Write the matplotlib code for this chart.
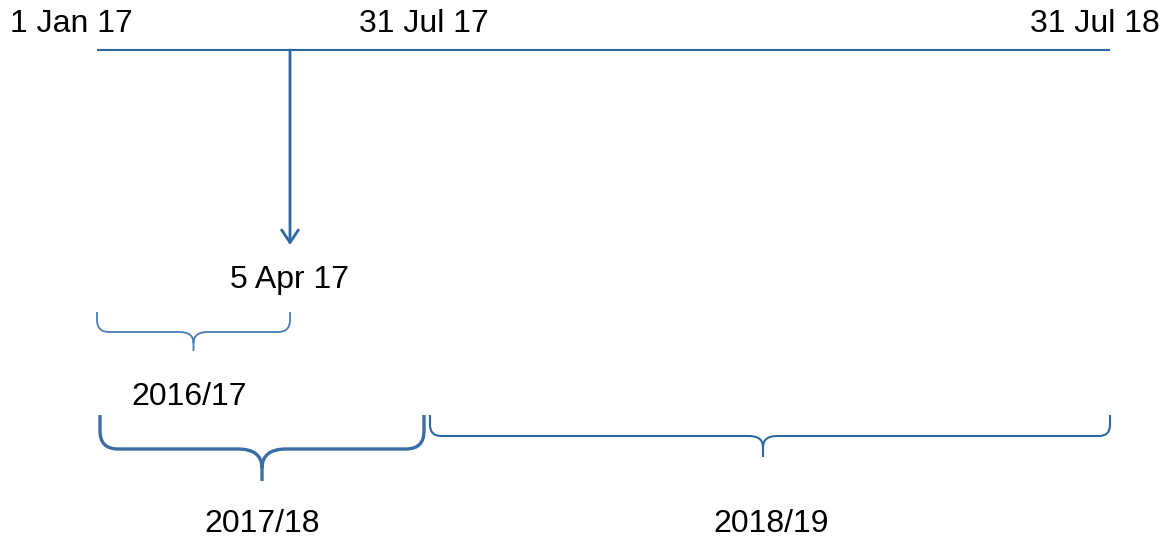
import matplotlib
matplotlib.use("Agg")
import matplotlib.pyplot as plt
from matplotlib.path import Path
from matplotlib import patches

plt.rcParams['font.family'] = ['Liberation Sans', 'DejaVu Sans']

# timeline labels and where they sit on the (schematic) line, in pixels
top_dates = ["1 Jan 17", "31 Jul 17", "31 Jul 18"]
top_date_x = [71, 424, 1095]
line_start, line_end = 97, 1110

event_date = "5 Apr 17"
event_x = 290

# tax years: label, start x, end x
periods = ["2016/17", "2017/18", "2018/19"]
period_start = [97, 100, 430]
period_end = [290, 424, 1110]

BLUE = '#2e68a3'


def brace(ax, x0, x1, ytop, ymid, ytip, r, rc, lw, color, xc=None):
    if xc is None:
        xc = (x0 + x1) / 2.0
    verts = [(x0, ytop), (x0, ymid - r),
             (x0, ymid), (x0 + r, ymid),
             (xc - rc, ymid),
             (xc, ymid), (xc, ymid + rc * 0.8),
             (xc, ytip),
             (xc, ymid + rc * 0.8),
             (xc, ymid), (xc + rc, ymid),
             (x1 - r, ymid),
             (x1, ymid), (x1, ymid - r),
             (x1, ytop)]
    codes = [Path.MOVETO, Path.LINETO,
             Path.CURVE3, Path.CURVE3,
             Path.LINETO,
             Path.CURVE3, Path.CURVE3,
             Path.LINETO,
             Path.MOVETO,
             Path.CURVE3, Path.CURVE3,
             Path.LINETO,
             Path.CURVE3, Path.CURVE3,
             Path.LINETO]
    ax.add_patch(patches.PathPatch(Path(verts, codes), fill=False,
                                   edgecolor=color, lw=lw, capstyle='butt'))
    return xc


fig = plt.figure(figsize=(11.67, 5.38), dpi=100)
ax = fig.add_axes([0, 0, 1, 1])
ax.set_xlim(0, 1167)
ax.set_ylim(538, 0)
ax.axis('off')

fs = 23

# main line
ax.plot([line_start, line_end], [50, 50], color=BLUE, lw=1.5, solid_capstyle='butt')
for lbl, x in zip(top_dates, top_date_x):
    ax.text(x, 24, lbl, fontsize=fs, ha='center', va='center')

# arrow down to 5 April
ax.annotate('', xy=(event_x, 245), xytext=(event_x, 50),
            arrowprops=dict(arrowstyle='->,head_length=0.45,head_width=0.3',
                            color=BLUE, lw=2.0, shrinkA=0, shrinkB=0,
                            mutation_scale=20))
ax.text(event_x, 280, event_date, fontsize=fs, ha='center', va='center')

# braces
c = brace(ax, period_start[0], period_end[0], 312, 332, 351, 12, 14, 1.3, '#4a7db3')
ax.text(c - 4, 397, periods[0], fontsize=fs, ha='center', va='center')

c = brace(ax, period_start[1], period_end[1], 415, 449, 481, 18, 24, 2.4, '#3a6ea6')
ax.text(c, 524, periods[1], fontsize=fs, ha='center', va='center')

c = brace(ax, period_start[2], period_end[2], 415, 436, 457, 11, 14, 1.5, BLUE, xc=763)
ax.text(c + 8, 524, periods[2], fontsize=fs, ha='center', va='center')

fig.savefig('out.png', dpi=100)
